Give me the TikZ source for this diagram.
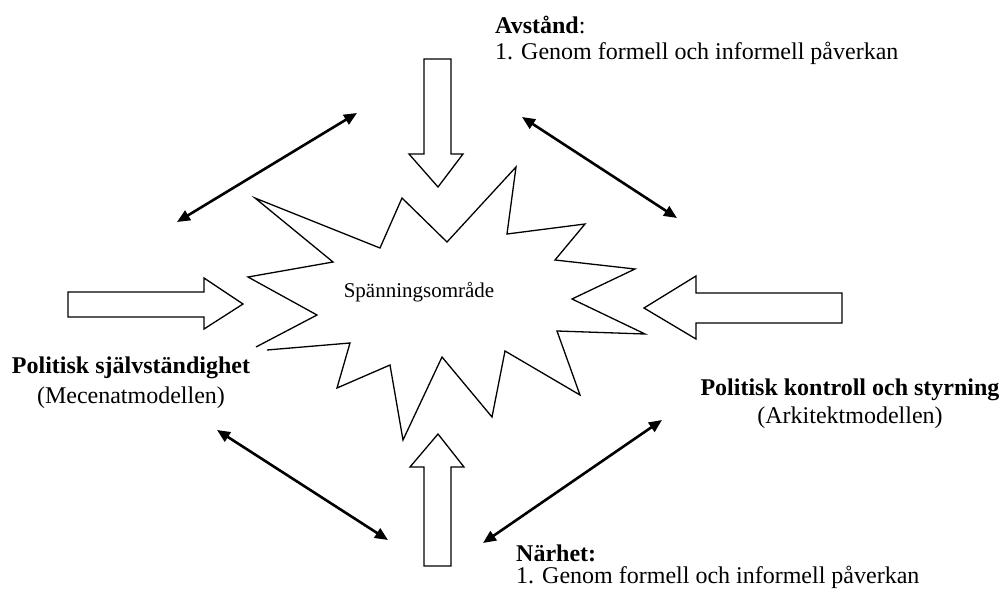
\documentclass[tikz,border=0pt]{standalone}
\usepackage{fontspec}
\setmainfont{Liberation Serif}
\usetikzlibrary{arrows.meta}
\begin{document}
\begin{tikzpicture}[x=1pt,y=-1pt,
  outl/.style={draw=black,line width=1.3pt,line join=miter,fill=white},
  dbl/.style={line width=2.6pt,{Triangle[length=13pt,width=11pt]}-{Triangle[length=13pt,width=11pt]}},
  lbl/.style={inner sep=0pt,font=\fontsize{24}{28}\selectfont},
  ctr/.style={inner sep=0pt,font=\fontsize{21}{24}\selectfont}]
\useasboundingbox[fill=white] (0,0) rectangle (1002,589);

% starburst (open at lower left, as in the original)
\draw[outl,fill=none] (256,347) -- (317,315) -- (248,277) -- (333,262) -- (255,198) -- (380,248)
  -- (402,198) -- (447,242) -- (516,167) -- (507,234) -- (585,224) -- (555,260)
  -- (635,269) -- (572,299) -- (645,334) -- (557,331) -- (580,395) -- (505,351)
  -- (492,417) -- (442,357) -- (403,440) -- (390,365) -- (337,388) -- (350,343) -- (267,350);
\node[ctr] (sp) at (419,292) {Spänningsområde};

% block arrows
\draw[outl] (424,59) -- (451,59) -- (451,154) -- (463,154) -- (438,187) -- (409,154) -- (424,154) -- cycle;
\draw[outl] (424,566) -- (451,566) -- (451,467) -- (464,467) -- (438,434) -- (410,467) -- (424,467) -- cycle;
\draw[outl] (68,292) -- (204,292) -- (204,278) -- (243,304) -- (204,329) -- (204,317) -- (68,317) -- cycle;
\draw[outl] (842,293) -- (696,293) -- (696,276) -- (644,308) -- (696,339) -- (696,323) -- (842,323) -- cycle;

% double-headed arrows
\coordinate (tla) at (177,222);
\coordinate (tlb) at (357,113);
\coordinate (tra) at (522,117);
\coordinate (trb) at (677,218);
\coordinate (bla) at (217,430);
\coordinate (blb) at (388,540);
\coordinate (bra) at (483,543);
\coordinate (brb) at (662,420);
\draw[dbl] (tla) -- (tlb);
\draw[dbl] (tra) -- (trb);
\draw[dbl] (bla) -- (blb);
\draw[dbl] (bra) -- (brb);

% labels
\node[lbl,anchor=west] (avst) at (495,25) {\textbf{Avstånd}:};
\node[lbl,anchor=west] (avst2) at (495,53) {1. Genom formell och informell påverkan};
\node[lbl,anchor=west] (narh) at (516,553) {\textbf{Närhet:}};
\node[lbl,anchor=west] (narh2) at (516,577) {1. Genom formell och informell påverkan};
\node[lbl] (ls) at (131,368) {\textbf{Politisk självständighet}};
\node[lbl] (ls2) at (131,398) {(Mecenatmodellen)};
\node[lbl] (rs) at (850,390) {\textbf{Politisk kontroll och styrning}};
\node[lbl] (rs2) at (850,418) {(Arkitektmodellen)};
\end{tikzpicture}
\end{document}
